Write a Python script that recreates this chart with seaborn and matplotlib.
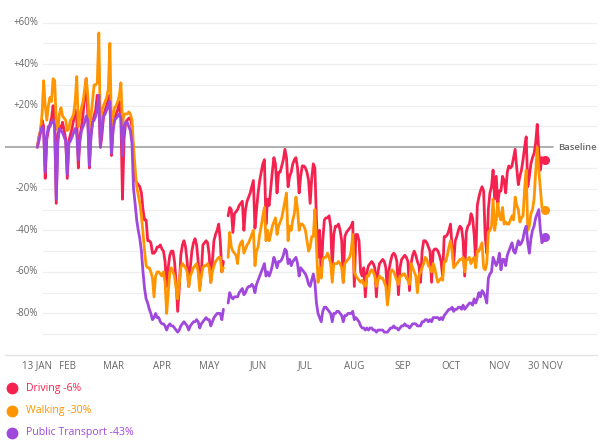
import numpy as np
import pandas as pd
import seaborn as sns
import matplotlib.pyplot as plt
from matplotlib.lines import Line2D

nan = np.nan

# daily values, one row = one week (Mon..Sun), 13 Jan .. 30 Nov 2020
driving = [
    0, 5, 8, 13, 10, -15, 4,
    8, 11, 14, 20, 12, -27, 6,
    10, 9, 12, 8, 4, -15, 3,
    6, 9, 13, 18, 14, -10, 5,
    10, 16, 24, 33, 16, -10, 6,
    12, 15, 18, 25, 20, 0, 6,
    15, 18, 20, 23, 25, -4, 9,
    14, 16, 18, 22, 14, -25, 4,
    12, 13, 14, 14, 10, -8, -16,
    -17, -18, -19, -22, -30, -35, -35,
    -45, -45, -46, -51, -51, -50, -48,
    -48, -47, -49, -50, -55, -67, -58,
    -52, -50, -50, -55, -65, -79, -68,
    -52, -47, -45, -48, -55, -67, -58,
    -50, -46, -44, -47, -55, -67, -60,
    -47, -46, -45, -46, -52, -65, -55,
    -45, -42, -40, -37, -45, -60, -55,
    nan, nan, -33, -29, -30, -41, -32,
    -31, -30, -28, -27, -26, -40, -30,
    -26, -24, -22, -19, -16, -39, -30,
    -22, -16, -12, -8, -6, -37, -25,
    -28, -20, -12, -5, -8, -22, -12,
    -12, -9, -6, -1, -5, -19, -14,
    -12, -8, -6, -5, -10, -22, -14,
    -9, -9, -10, -12, -16, -27, -15,
    -8, -10, -35, -53, -40, -62, -45,
    -35, -34, -34, -33, -38, -58, -42,
    -38, -38, -37, -40, -45, -65, -43,
    -41, -40, -39, -38, -36, -67, -42,
    -42, -45, -60, -62, -58, -72, -60,
    -57, -56, -55, -56, -58, -72, -60,
    -56, -55, -54, -55, -58, -70, -59,
    -55, -52, -51, -52, -55, -71, -58,
    -54, -53, -52, -53, -55, -69, -56,
    -52, -50, -52, -55, -57, -65, -50,
    -45, -45, -46, -48, -50, -65, -50,
    -49, -49, -50, -52, -55, -62, -43,
    -43, -42, -40, -37, -48, -56, -45,
    -43, -40, -38, -39, -45, -62, -41,
    -38, -37, -32, -34, -42, -55, -28,
    -24, -21, -19, -21, -43, -51, -30,
    -22, -19, -11, -25, -14, -27, -21,
    -21, -14, -16, -22, -12, -9, -10,
    -9, -5, -1, -10, -18, -14, -11,
    -6, 0, 5, -19, -14, -8, -5,
    -3, 2, 11, -2, -11, -5, -6,
    -6,
]

walking = [
    0, 4, 8, 16, 32, 20, 13,
    20, 24, 22, 33, 32, 12, 8,
    16, 19, 15, 14, 13, 8, 9,
    13, 14, 16, 22, 34, 10, 14,
    19, 22, 28, 33, 25, 10, 15,
    22, 30, 30, 31, 55, 8, 18,
    20, 22, 24, 28, 50, 8, 15,
    19, 20, 22, 25, 31, 11, 16,
    16, 16, 17, 16, 13, 0, -10,
    -19, -23, -27, -33, -41, -50, -57,
    -58, -58, -60, -63, -72, -62, -60,
    -60, -61, -62, -60, -65, -80, -70,
    -60, -58, -60, -62, -68, -73, -66,
    -58, -56, -57, -58, -60, -67, -62,
    -60, -58, -57, -56, -60, -69, -62,
    -58, -57, -57, -56, -58, -65, -60,
    -57, -55, -54, -53, -53, -60, -58,
    nan, nan, -53, -41, -48, -50, -51,
    -52, -56, -48, -46, -45, -51, -49,
    -47, -46, -44, -42, -40, -57, -50,
    -48, -42, -38, -33, -29, -45, -40,
    -45, -42, -38, -36, -34, -42, -38,
    -36, -34, -30, -26, -22, -45, -38,
    -40, -35, -32, -24, -30, -40, -37,
    -37, -38, -40, -45, -50, -48, -43,
    -43, -30, -48, -65, -58, -63, -54,
    -53, -53, -51, -53, -56, -65, -56,
    -56, -56, -55, -56, -58, -65, -56,
    -55, -54, -53, -50, -42, -60, -62,
    -63, -64, -65, -64, -66, -67, -62,
    -62, -60, -59, -60, -62, -67, -64,
    -62, -63, -63, -65, -67, -76, -70,
    -60, -59, -60, -62, -64, -66, -62,
    -62, -61, -61, -63, -64, -66, -56,
    -58, -60, -62, -70, -62, -60, -58,
    -56, -53, -54, -57, -58, -60, -56,
    -58, -62, -65, -64, -63, -64, -55,
    -55, -52, -48, -45, -50, -58, -57,
    -56, -55, -54, -54, -53, -60, -54,
    -54, -53, -56, -54, -53, -58, -50,
    -50, -48, -46, -58, -59, -56, -41,
    -40, -38, -25, -40, -35, -27, -33,
    -35, -29, -37, -36, -37, -37, -35,
    -33, -35, -24, -28, -30, -36, -34,
    -33, -20, -11, -40, -38, -32, -30,
    -25, -12, 0, -11, -20, -29, -30,
    -30,
]

transit = [
    0, 3, 7, 10, 8, -12, 5,
    10, 10, 12, 13, 10, -25, 2,
    9, 8, 7, 5, 3, -13, 2,
    3, 5, 7, 9, 6, -6, 3,
    8, 10, 12, 15, 13, -9, 5,
    12, 13, 15, 18, 25, 0, 10,
    15, 16, 18, 20, 22, -3, 8,
    13, 14, 15, 16, 14, -4, 10,
    12, 12, 10, 8, 2, -20, -27,
    -35, -40, -44, -50, -60, -68, -73,
    -75, -78, -80, -83, -82, -80, -82,
    -82, -84, -85, -85, -86, -88, -86,
    -85, -86, -86, -87, -88, -89, -88,
    -86, -85, -84, -85, -86, -88, -86,
    -85, -84, -84, -83, -84, -87, -85,
    -84, -83, -82, -83, -83, -86, -84,
    -82, -81, -80, -80, -80, -83, -78,
    nan, nan, -75, -70, -72, -73, -72,
    -72, -72, -70, -69, -68, -71, -70,
    -68, -67, -67, -66, -67, -70, -66,
    -64, -62, -60, -58, -56, -62, -60,
    -62, -60, -57, -53, -55, -58, -55,
    -55, -54, -52, -49, -50, -56, -54,
    -57, -55, -54, -53, -56, -62, -58,
    -59, -60, -61, -63, -66, -67, -64,
    -61, -65, -75, -80, -82, -84, -79,
    -77, -77, -78, -79, -80, -84, -80,
    -80, -79, -79, -80, -81, -84, -81,
    -81, -80, -80, -80, -79, -83, -82,
    -83, -84, -86, -87, -87, -88, -87,
    -88, -87, -87, -88, -88, -89, -88,
    -88, -88, -88, -89, -89, -89, -88,
    -87, -87, -86, -87, -87, -88, -87,
    -86, -86, -85, -86, -86, -87, -86,
    -85, -85, -85, -86, -86, -86, -84,
    -84, -83, -83, -84, -83, -84, -82,
    -82, -82, -82, -83, -82, -83, -81,
    -80, -79, -78, -78, -77, -79, -78,
    -78, -77, -77, -78, -76, -78, -77,
    -76, -75, -75, -76, -73, -75, -73,
    -70, -72, -69, -70, -72, -75, -63,
    -61, -60, -53, -55, -57, -55, -51,
    -59, -54, -54, -57, -52, -50, -48,
    -46, -50, -51, -48, -45, -47, -46,
    -44, -40, -38, -46, -51, -44, -40,
    -38, -34, -32, -30, -40, -46, -44,
    -43,
]

modes = ["Driving", "Walking", "Public Transport"]
colors = ["#f5224f", "#ff9500", "#a148dc"]
tick_dates = ["2020-01-13", "2020-02-01", "2020-03-01", "2020-04-01", "2020-05-01",
              "2020-06-01", "2020-07-01", "2020-08-01", "2020-09-01", "2020-10-01",
              "2020-11-01", "2020-11-30"]
tick_labels = ["13 JAN", "FEB", "MAR", "APR", "MAY", "JUN", "JUL", "AUG", "SEP",
               "OCT", "NOV", "30 NOV"]
ytick_vals = [60, 40, 20, -20, -40, -60, -80]

dates = pd.date_range("2020-01-13", "2020-11-30", freq="D")
gap_start = pd.Timestamp("2020-05-11")

frames = []
for name, vals in zip(modes, [driving, walking, transit]):
    part = pd.DataFrame({"date": dates, "value": vals, "mode": name})
    part["seg"] = (part["date"] > gap_start).astype(int)
    frames.append(part)
df = pd.concat(frames).dropna()

sns.set_style("white")
plt.rcParams["font.family"] = ["Open Sans", "DejaVu Sans"]

fig = plt.figure(figsize=(6, 4.45), dpi=100)
ax = fig.add_axes([5 / 600, 1 - 355 / 445, 592 / 600, 337 / 445])

# grid
for v in range(-90, 61, 10):
    if v != 0:
        ax.axhline(v, xmin=0.064, xmax=1, color="#eeeeee", lw=0.9, zorder=0)
ax.axhline(-100, color="#e3e3e3", lw=1.0, zorder=0, clip_on=False)
ax.axhline(0, xmin=0, xmax=0.925, color="#9a9a9a", lw=1.1, zorder=1)

sns.lineplot(data=df, x="date", y="value", hue="mode", units="seg", estimator=None,
             palette=dict(zip(modes, colors)), hue_order=modes, linewidth=2.0,
             legend=False, ax=ax, zorder=3)

for name, vals, c in zip(modes, [driving, walking, transit], colors):
    ax.plot(dates[-1], vals[-1], "o", ms=5.5, color=c, zorder=4)

t0 = pd.Timestamp("2020-01-13")
ax.set_xlim(t0 - pd.Timedelta(days=20.5), t0 + pd.Timedelta(days=354.9))
ax.set_ylim(-100, 62.2)

ax.set_xticks(pd.to_datetime(tick_dates))
ax.set_xticklabels(tick_labels)
ax.set_yticks([])
ax.tick_params(axis="x", length=0, pad=4, labelsize=7, labelcolor="#666666")
ax.set_xlabel("")
ax.set_ylabel("")
for s in ax.spines.values():
    s.set_visible(False)

for v in ytick_vals:
    lab = ("+%d%%" % v) if v > 0 else ("%d%%" % v)
    ax.text(0.0557, v, lab, transform=ax.get_yaxis_transform(), ha="right",
            va="center", fontsize=7, color="#666666")

fig.text(597 / 600, 1 - 147 / 445, "Baseline", ha="right", va="center",
         fontsize=6.8, color="#666666", fontweight="semibold")

# legend
labels = ["Driving -6%", "Walking -30%", "Public Transport -43%"]
for i, (lab, c) in enumerate(zip(labels, colors)):
    yy = 1 - (388 + i * 22.5) / 445
    fig.add_artist(Line2D([12 / 600], [yy], marker="o", ms=7.5, color=c,
                          transform=fig.transFigure))
    fig.text(26 / 600, yy, lab, ha="left", va="center", fontsize=7.6, color=c)

fig.savefig("out.png", dpi=100)
